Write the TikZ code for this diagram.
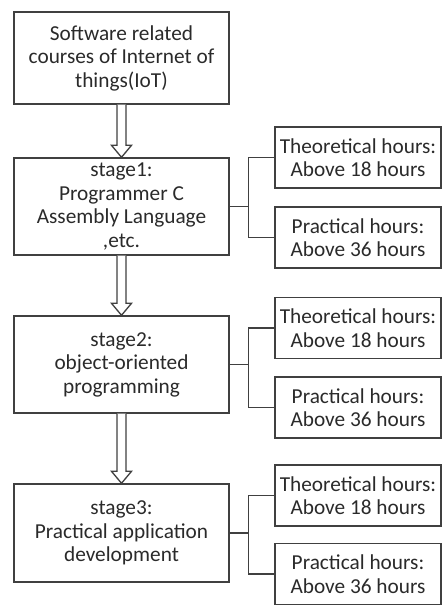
\documentclass[tikz,border=0pt]{standalone}
\usepackage{fontspec}
\setmainfont{Carlito}
\usetikzlibrary{calc}
\definecolor{ln}{HTML}{404040}
\definecolor{tx}{HTML}{2A2A2A}
\begin{document}
\begin{tikzpicture}[x=1pt,y=1pt,
  box/.style={draw=ln,line width=1.4pt,rectangle,align=center,text=tx,
     font=\fontsize{21.3}{23.5}\selectfont,inner sep=0pt},
  mainbox/.style={box,minimum width=215pt},
  sidebox/.style={box,minimum width=166pt,minimum height=61pt},
  conn/.style={draw=ln,line width=1.4pt},
  hollow/.style={draw=ln,line width=1.3pt,fill=white,line join=miter}]
\useasboundingbox (0,0) rectangle (442,-608);
\node[mainbox,minimum height=92pt] (top) at (121.5,-58) {Software related\\courses of Internet of\\things(IoT)};
\node[mainbox,minimum height=97pt] (s1) at (121.5,-206.5) {stage1:\\Programmer C\\Assembly Language\\,etc.};
\node[mainbox,minimum height=97pt] (s2) at (121.5,-364.5) {stage2:\\object-oriented\\programming};
\node[mainbox,minimum height=98pt] (s3) at (121.5,-533) {stage3:\\Practical application\\development};
\node[sidebox] (t1) at (358,-157.5) {Theoretical hours:\\Above 18 hours};
\node[sidebox] (p1) at (358,-237.5) {Practical hours:\\Above 36 hours};
\node[sidebox] (t2) at (358,-328) {Theoretical hours:\\Above 18 hours};
\node[sidebox] (p2) at (358,-407.5) {Practical hours:\\Above 36 hours};
\node[sidebox] (t3) at (358,-495.5) {Theoretical hours:\\Above 18 hours};
\node[sidebox] (p3) at (358,-574) {Practical hours:\\Above 36 hours};
\foreach \a/\b in {top/s1,s1/s2,s2/s3}{
  \draw[hollow] ($(\a.south)+(-4.5,0)$) -- ($(\b.north)+(-4.5,12)$) -- ($(\b.north)+(-10,12)$)
     -- (\b.north) -- ($(\b.north)+(10,12)$) -- ($(\b.north)+(4.5,12)$) -- ($(\a.south)+(4.5,0)$);
}
\foreach \s/\t/\p in {s1/t1/p1,s2/t2/p2,s3/t3/p3}{
  \coordinate (j\s) at ($(\s.east)+(19,0)$);
  \draw[conn] (\s.east) -- (j\s);
  \draw[conn] (\t.west) -| (j\s) |- (\p.west);
}
\end{tikzpicture}
\end{document}
